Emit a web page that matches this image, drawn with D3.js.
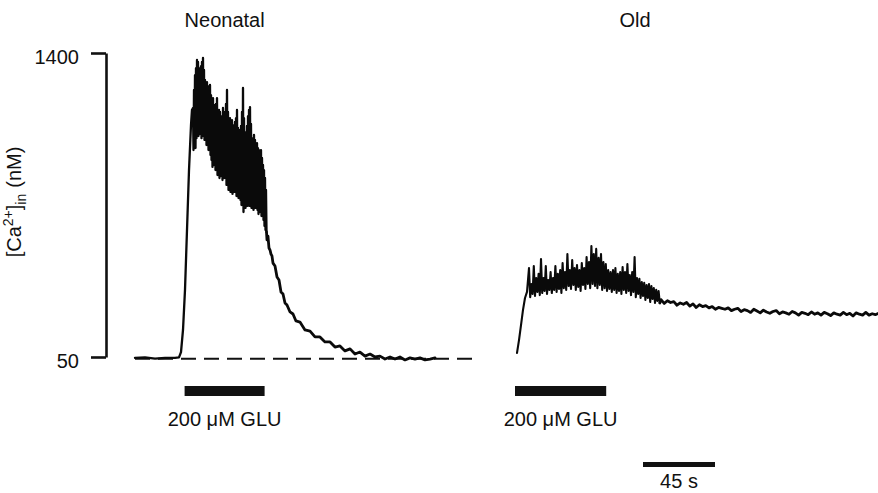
<!DOCTYPE html>
<html>
<head>
<meta charset="utf-8">
<script src="https://cdn.jsdelivr.net/npm/d3@7"></script>
<style>
  body { margin: 0; background: #fff; }
  svg { display: block; font-family: "Liberation Sans", Arial, Helvetica, sans-serif; }
  .trace { fill: none; stroke: #0a0a0a; stroke-linejoin: round; stroke-linecap: round; }
</style>
</head>
<body>
<svg id="chart" width="878" height="493"></svg>
<script>
// [Ca2+]in traces (time in s, concentration in nM)
const yTicks = [50, 1400];
const baselineCa = 42;

const neoRise = [[0,46],[6.25,48],[12.5,43],[18.75,46],[25,46],[27.5,48],[28.75,72],[30,170],[31.25,348],[32.5,614],[33.75,880],[35,1080],[35.6,1147]];
const neoBandStart = 36.25, neoBandStep = 0.625;
const neoBandHigh = [1156,1236,1302,1333,1369,1360,1316,1333,1342,1360,1378,1325,1280,1262,1271,1253,1236,1258,1213,1191,1200,1169,1147,1174,1200,1125,1147,1138,1102,1120,1156,1111,1138,1174,1236,1138,1094,1111,1076,1102,1067,1080,1094,1111,1147,1067,1040,1058,1076,1138,1245,1111,1036,1049,1076,1120,1147,1160,1085,1022,1005,1036,1014,991,1000,978,969,947,969,934,903,880,845,792];
const neoBandLow = [969,1014,978,1022,1049,1031,1058,1040,1022,1045,1031,1014,1036,991,1014,969,978,947,925,894,934,903,880,903,858,872,845,880,854,836,863,845,854,814,836,792,809,783,800,774,792,783,800,765,783,756,774,747,725,756,694,729,712,747,721,738,721,729,712,729,703,721,712,725,703,685,712,694,676,685,658,632,614,605];
const neoDecay = [[82.5,570],[83.1,587],[83.75,534],[84.4,525],[85,507],[85.6,499],[86.25,467],[87.5,454],[88.75,405],[90,392],[91.25,339],[92.5,330],[93.75,290],[95,281],[96.9,250],[98.75,241],[100.6,210],[103.1,205],[106.25,170],[109.4,165],[112.5,139],[115.6,139],[118.75,117],[121.9,117],[125,94],[128.1,99],[131.25,77],[134.4,86],[137.5,63],[140.6,72],[143.75,54],[146.9,63],[150,50],[153.1,54],[156.25,41],[159.4,50],[162.5,41],[165.6,50],[168.75,37],[171.9,46],[175,41],[178.1,46],[181.25,37],[184.4,41],[187.5,46]];

const oldRise = [[1.25,68],[2.5,125],[3.75,192],[5,259],[6.25,312],[7.5,339]];
const oldBandStart = 8.75, oldBandStep = 1.5;
const oldBandHigh = [445,374,454,401,419,485,401,454,392,427,401,454,419,436,467,427,507,436,481,445,458,436,467,445,494,472,543,507,530,490,507,472,463,436,427,436,445,419,427,450,427,463,414,427,494,401,397,383,379,370,374,365,356,348,343];
const oldBandLow = [316,330,321,339,325,334,343,330,348,334,348,339,352,334,356,348,365,352,370,348,361,343,370,352,374,356,374,365,356,370,348,356,343,352,339,348,334,343,330,348,334,343,325,339,316,330,312,321,303,312,294,308,290,299,290];
const oldTailStart = 91.25, oldTailStep = 2;
const oldTail = [305,288,300,292,296,280,290,284,292,276,286,270,282,274,278,268,274,262,270,266,262,268,256,262,266,252,260,256,248,262,254,246,258,250,244,252,256,242,250,246,240,252,246,236,248,244,238,250,240,246,236,248,242,234,246,240,236,248,238,244,232,246,240,236,248,236,242,238,244];

// stimulus bars and scale bar (s)
const neoGlu = [31, 81];
const oldGlu = [0, 57];
const scaleBar = [80, 125];
const panelTitles = ["Neonatal", "Old"];
const gluLabel = "200 \u03bcM GLU";

const svg = d3.select("#chart");

const y = d3.scaleLinear().domain([50, 1400]).range([357, 53]);
const xNeo = d3.scaleLinear().domain([0, 211.25]).range([135, 473]);
const xOld = d3.scaleLinear().domain([0, 228]).range([515, 879.8]);

// turn a hi/lo band into a dense zigzag like the recorder trace
function zigzag(start, step, hi, lo) {
  let pts = [];
  hi.forEach((h, i) => {
    pts.push([start + i * step, h]);
    pts.push([start + (i + 0.5) * step, lo[i]]);
  });
  return pts;
}

const neoFront = neoRise.concat(zigzag(neoBandStart, neoBandStep, neoBandHigh, neoBandLow));
const oldFront = oldRise.concat(zigzag(oldBandStart, oldBandStep, oldBandHigh, oldBandLow));
const oldTailPts = oldTail.map((v, i) => [oldTailStart + i * oldTailStep, v]);

// y axis
const yAxis = d3.axisLeft(y)
    .tickValues(yTicks)
    .tickSize(15)
    .tickSizeOuter(0)
    .tickPadding(12)
    .tickFormat(d3.format("d"));

const ax = svg.append("g")
    .attr("transform", "translate(106,0)")
    .call(yAxis);
ax.select(".domain").attr("stroke", "#111").attr("stroke-width", 2.6);
ax.selectAll(".tick line").attr("stroke", "#111").attr("stroke-width", 2.6);
ax.selectAll(".tick text")
    .attr("font-size", 20)
    .attr("font-family", "Liberation Sans, Arial, sans-serif")
    .attr("fill", "#111")
    .attr("dy", "0.5em");

const ylab = svg.append("text")
    .attr("transform", "translate(21,202) rotate(-90)")
    .attr("text-anchor", "middle")
    .attr("font-size", 20)
    .attr("fill", "#111");
ylab.append("tspan").text("[Ca");
ylab.append("tspan").attr("font-size", 14).attr("dy", -8).text("2+");
ylab.append("tspan").attr("dy", 8).text("]");
ylab.append("tspan").attr("font-size", 14).attr("dy", 5).text("in");
ylab.append("tspan").attr("dy", -5).attr("dx", 6).text("(nM)");

// titles
svg.selectAll(".title")
    .data(panelTitles)
    .enter().append("text")
    .attr("class", "title")
    .attr("x", (d, i) => i == 0 ? xNeo(56) : xOld(75))
    .attr("y", 27)
    .attr("text-anchor", "middle")
    .attr("font-size", 20)
    .attr("fill", "#111")
    .text(d => d);

// dashed baseline under the neonatal trace
svg.append("line")
    .attr("x1", xNeo(0))
    .attr("x2", xNeo(211.25))
    .attr("y1", y(baselineCa))
    .attr("y2", y(baselineCa))
    .attr("stroke", "#111")
    .attr("stroke-width", 2)
    .attr("stroke-dasharray", "15,8");

// traces
const lineNeo = d3.line().x(d => xNeo(d[0])).y(d => y(d[1]));
const lineOld = d3.line().x(d => xOld(d[0])).y(d => y(d[1]));

svg.append("path").datum(neoFront)
    .attr("class", "trace")
    .attr("stroke-width", 2.3)
    .attr("d", lineNeo);

svg.append("path").datum([neoFront[neoFront.length - 1]].concat(neoDecay))
    .attr("class", "trace")
    .attr("stroke-width", 2.8)
    .attr("d", lineNeo);

svg.append("path").datum(oldFront)
    .attr("class", "trace")
    .attr("stroke-width", 2.1)
    .attr("d", lineOld);

svg.append("path").datum([oldFront[oldFront.length - 1]].concat(oldTailPts))
    .attr("class", "trace")
    .attr("stroke-width", 2.8)
    .attr("d", lineOld);

// glutamate application bars
const glu = [{x: xNeo, r: neoGlu}, {x: xOld, r: oldGlu}];
svg.selectAll(".glu")
    .data(glu)
    .enter().append("rect")
    .attr("class", "glu")
    .attr("x", d => d.x(d.r[0]))
    .attr("width", d => d.x(d.r[1]) - d.x(d.r[0]))
    .attr("y", 386)
    .attr("height", 10)
    .attr("fill", "#111");

svg.selectAll(".glulab")
    .data(glu)
    .enter().append("text")
    .attr("class", "glulab")
    .attr("x", d => (d.x(d.r[0]) + d.x(d.r[1])) / 2)
    .attr("y", 426)
    .attr("text-anchor", "middle")
    .attr("font-size", 20)
    .attr("fill", "#111")
    .text(gluLabel);

// time scale bar
svg.append("rect")
    .attr("x", xOld(scaleBar[0]))
    .attr("width", xOld(scaleBar[1]) - xOld(scaleBar[0]))
    .attr("y", 462)
    .attr("height", 5)
    .attr("fill", "#111");

svg.append("text")
    .attr("x", (xOld(scaleBar[0]) + xOld(scaleBar[1])) / 2)
    .attr("y", 488)
    .attr("text-anchor", "middle")
    .attr("font-size", 20)
    .attr("fill", "#111")
    .text((scaleBar[1] - scaleBar[0]) + " s");
</script>
</body>
</html>
